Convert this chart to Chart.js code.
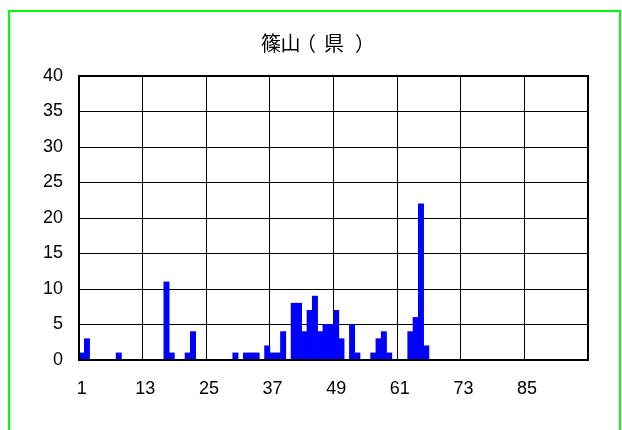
<!DOCTYPE html>
<html>
<head>
<meta charset="utf-8">
<script src="https://cdn.jsdelivr.net/npm/chart.js@4/dist/chart.umd.min.js"></script>
<style>
  html, body { margin: 0; padding: 0; background: #ffffff; }
  #wrap { width: 622px; height: 430px; }
</style>
</head>
<body>
<div id="wrap"><canvas id="countChart" width="622" height="430"></canvas></div>
<script>
const chartTitle = '篠山（県）';
// ink centre of each title glyph, so the brackets sit mid-cell
const titleGlyphX = [271, 290.5, 312.5, 334, 358.5];

// categories 1..96
const categories = [];
for (let i = 1; i <= 96; i++) categories.push(String(i));

// nonzero counts, keyed by category number
const hitDays = [1, 2, 8, 17, 18, 21, 22, 30, 32, 33, 34, 36, 37, 38, 39, 41, 42, 43, 44, 45,
  46, 47, 48, 49, 50, 52, 53, 56, 57, 58, 59, 63, 64, 65, 66];
const hitCounts = [1, 3, 1, 11, 1, 1, 4, 1, 1, 1, 1, 2, 1, 1, 4, 8, 8, 4, 7, 9,
  4, 5, 5, 7, 3, 5, 1, 1, 3, 4, 1, 4, 6, 22, 2];

const yTicks = [0, 5, 10, 15, 20, 25, 30, 35, 40];
const labelStep = 12;

const counts = categories.map(c => {
  const k = hitDays.indexOf(Number(c));
  return k >= 0 ? hitCounts[k] : 0;
});

// green outer frame, title and black plot frame
const framePlugin = {
  id: 'framePlugin',
  beforeDraw(chart) {
    const c = chart.ctx;
    c.save();
    c.fillStyle = '#ffffff';
    c.fillRect(0, 0, chart.width, chart.height);
    c.strokeStyle = '#00ff00';
    c.lineWidth = 2;
    c.strokeRect(9, 11, 611, 440);
    c.fillStyle = '#000000';
    c.font = '20px "Noto Sans CJK JP", sans-serif';
    c.textAlign = 'left';
    c.textBaseline = 'alphabetic';
    Array.from(chartTitle).forEach((ch, i) => {
      const m = c.measureText(ch);
      const inkMid = (m.actualBoundingBoxRight - m.actualBoundingBoxLeft) / 2;
      c.fillText(ch, titleGlyphX[i] - inkMid, 51);
    });
    c.restore();
  },
  afterDraw(chart) {
    const a = chart.chartArea;
    const c = chart.ctx;
    c.save();
    c.strokeStyle = '#000000';
    c.lineWidth = 2;
    c.strokeRect(a.left, a.top, a.right - a.left, a.bottom - a.top);
    c.restore();
  }
};

const ctx = document.getElementById('countChart').getContext('2d');

new Chart(ctx, {
  type: 'bar',
  data: {
    labels: categories,
    datasets: [{
      data: counts,
      backgroundColor: '#0000ff',
      borderWidth: 0,
      barPercentage: 1,
      categoryPercentage: 1
    }]
  },
  options: {
    responsive: false,
    animation: false,
    devicePixelRatio: 1,
    layout: {
      padding: { top: 76, right: 34, bottom: 0, left: 0 }
    },
    plugins: {
      legend: { display: false },
      title: { display: false },
      tooltip: { enabled: false }
    },
    scales: {
      x: {
        offset: true,
        afterFit(scale) { scale.height = 70; },
        border: { display: false },
        grid: {
          offset: true,
          drawTicks: false,
          color: (g) => (g.index % labelStep === 0 ? '#000000' : 'rgba(0,0,0,0)'),
          lineWidth: 1
        },
        ticks: {
          autoSkip: false,
          maxRotation: 0,
          padding: 18,
          color: '#000000',
          font: { family: '"Liberation Sans", Arial, sans-serif', size: 18 },
          callback: (v, i) => (i % labelStep === 0 ? categories[i] : '')
        }
      },
      y: {
        min: 0,
        max: 40,
        afterFit(scale) { scale.width = 79; },
        afterBuildTicks(scale) { scale.ticks = yTicks.map(v => ({ value: v })); },
        border: { display: false },
        grid: {
          drawTicks: false,
          color: '#000000',
          lineWidth: 1
        },
        ticks: {
          padding: 16,
          color: '#000000',
          font: { family: '"Liberation Sans", Arial, sans-serif', size: 18 }
        }
      }
    }
  },
  plugins: [framePlugin]
});
</script>
</body>
</html>
